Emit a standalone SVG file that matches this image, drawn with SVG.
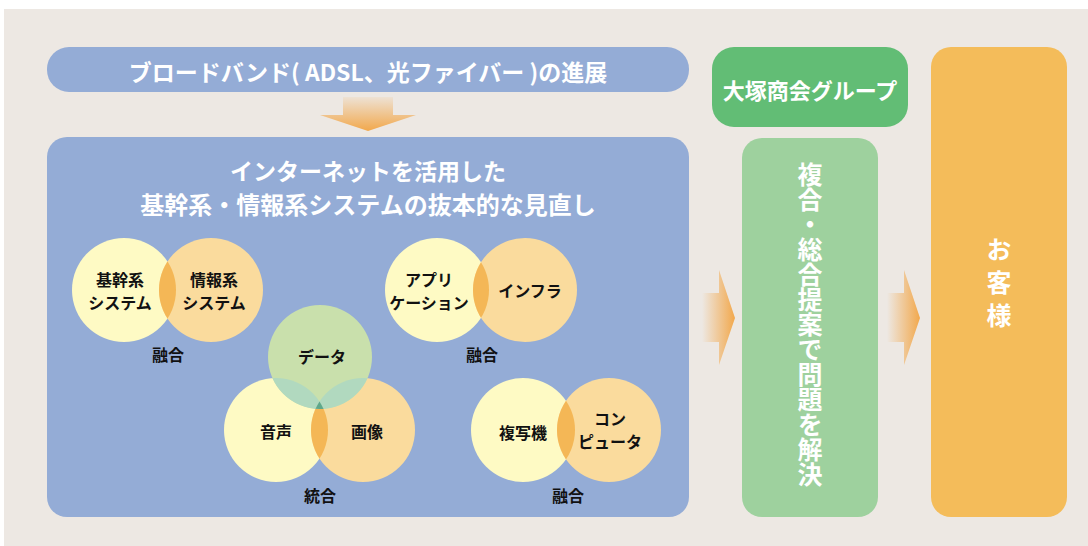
<svg xmlns="http://www.w3.org/2000/svg" width="1088" height="546" viewBox="0 0 1088 546">
<style>
.w{fill:#fff;font-family:"Noto Sans CJK JP","Noto Sans",sans-serif;font-weight:bold}
.k{fill:#111;font-family:"Noto Sans CJK JP","Noto Sans",sans-serif;font-weight:bold;font-size:16px;text-anchor:middle}
.y{fill:#fefac4}
.o{fill:#fadb9d}
.x{fill:#f4b756}
</style>
<defs>
<linearGradient id="gh" x1="0" y1="0" x2="1" y2="0"><stop offset="0" stop-color="#f2a84c" stop-opacity="0"/><stop offset="1" stop-color="#f2a84c"/></linearGradient>
<linearGradient id="gv" x1="0" y1="0" x2="0" y2="1"><stop offset="0" stop-color="#f2a84c" stop-opacity="0.1"/><stop offset="1" stop-color="#f2a84c"/></linearGradient>
<clipPath id="c1"><circle cx="124" cy="290" r="52"/></clipPath>
<clipPath id="c2"><circle cx="437" cy="290" r="52"/></clipPath>
<clipPath id="c3"><circle cx="276" cy="430" r="52"/></clipPath>
<clipPath id="c4"><circle cx="363" cy="430" r="52"/></clipPath>
<clipPath id="c5"><circle cx="523" cy="430" r="52"/></clipPath>
</defs>
<rect x="0" y="0" width="1088" height="546" fill="#fff"/>
<rect x="4" y="9" width="1084" height="537" fill="#ede8e3"/>

<g id="broadband">
<rect x="47" y="47" width="642" height="45" rx="22" fill="#94acd6"/>
<text class="w" x="368" y="81" font-size="23" text-anchor="middle">ブロードバンド( ADSL、光ファイバー )の進展</text>
</g>

<g id="main">
<rect x="47" y="137" width="642" height="380" rx="20" fill="#94acd6"/>
<text class="w" x="368" y="180" font-size="23" text-anchor="middle">インターネットを活用した</text>
<text class="w" x="368" y="214" font-size="24" text-anchor="middle">基幹系・情報系システムの抜本的な見直し</text>
</g>

<g id="group1">
<circle class="y" cx="124" cy="290" r="52"/>
<circle class="o" cx="211" cy="290" r="52"/>
<circle class="x" cx="211" cy="290" r="52" clip-path="url(#c1)"/>
<text class="k" x="120" y="286">基幹系</text>
<text class="k" x="120" y="309">システム</text>
<text class="k" x="214" y="286">情報系</text>
<text class="k" x="214" y="309">システム</text>
<text class="k" x="168" y="361">融合</text>
</g>

<g id="group2">
<circle class="y" cx="437" cy="290" r="52"/>
<circle class="o" cx="525" cy="290" r="52"/>
<circle class="x" cx="525" cy="290" r="52" clip-path="url(#c2)"/>
<text class="k" x="429" y="286">アプリ</text>
<text class="k" x="429" y="309">ケーション</text>
<text class="k" x="530" y="297">インフラ</text>
<text class="k" x="482" y="361">融合</text>
</g>

<g id="group3">
<circle class="y" cx="276" cy="430" r="52"/>
<circle class="o" cx="363" cy="430" r="52"/>
<circle class="x" cx="363" cy="430" r="52" clip-path="url(#c3)"/>
<circle cx="320" cy="357" r="52" fill="#c9e0ac"/>
<circle cx="320" cy="357" r="52" fill="#b1d9bf" clip-path="url(#c3)"/>
<circle cx="320" cy="357" r="52" fill="#b1d9bf" clip-path="url(#c4)"/>
<g clip-path="url(#c3)"><circle cx="320" cy="357" r="52" fill="#5fa78a" clip-path="url(#c4)"/></g>
<text class="k" x="322" y="363">データ</text>
<text class="k" x="276" y="438">音声</text>
<text class="k" x="367" y="438">画像</text>
<text class="k" x="320" y="502">統合</text>
</g>

<g id="group4">
<circle class="y" cx="523" cy="430" r="52"/>
<circle class="o" cx="609" cy="430" r="52"/>
<circle class="x" cx="609" cy="430" r="52" clip-path="url(#c5)"/>
<text class="k" x="523" y="439">複写機</text>
<text class="k" x="610" y="425">コン</text>
<text class="k" x="610" y="448">ピュータ</text>
<text class="k" x="568" y="502">融合</text>
</g>

<g id="otsuka">
<rect x="712" y="47" width="196" height="80" rx="22" fill="#62bd75"/>
<text class="w" x="810" y="99" font-size="22" text-anchor="middle">大塚商会グループ</text>
</g>

<g id="proposal">
<rect x="742" y="138" width="136" height="379" rx="20" fill="#9ed19e"/>
<text class="w" x="810" y="162" font-size="25" writing-mode="vertical-rl">複合・総合提案で問題を解決</text>
</g>

<g id="customer">
<rect x="931" y="47" width="136" height="470" rx="20" fill="#f4bc5a"/>
<text class="w" x="999" y="237" font-size="25" writing-mode="vertical-rl" letter-spacing="8">お客様</text>
</g>

<g id="connectors">
<path d="M343 97H393V115H416L368 131L320 115H343Z" fill="url(#gv)"/>
<path d="M702 293H719V270L735 318L719 365V342H702Z" fill="url(#gh)"/>
<path d="M887 293H904V270L920 318L904 365V342H887Z" fill="url(#gh)"/>
</g>
</svg>
